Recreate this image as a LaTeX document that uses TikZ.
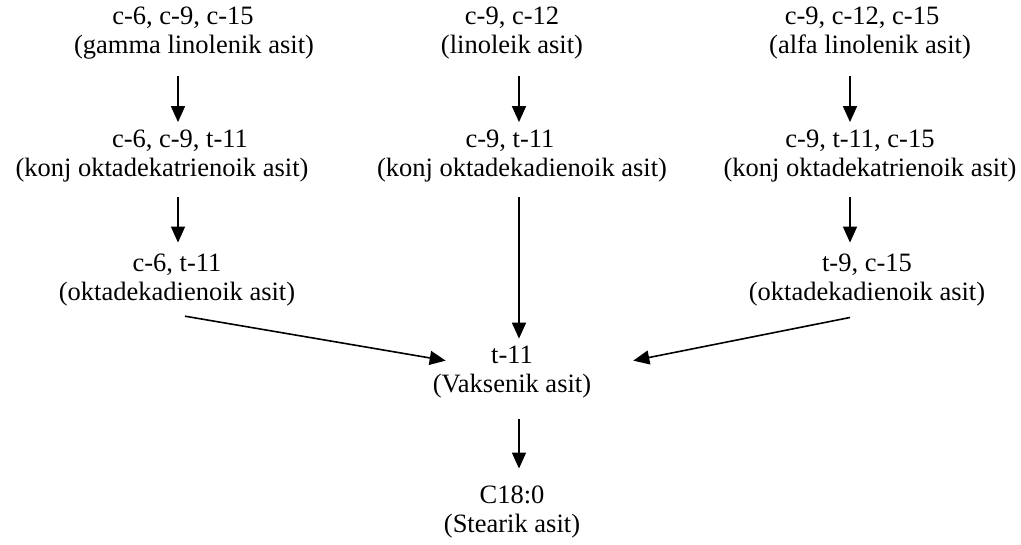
\documentclass[tikz,border=0pt]{standalone}
\usepackage{fontspec}
\setmainfont{Liberation Serif}
\usetikzlibrary{arrows.meta}
\begin{document}
\begin{tikzpicture}[x=1pt,y=1pt,
  lbl/.style={inner sep=0pt, align=center, font=\fontsize{26.5}{29}\selectfont},
  arr/.style={line width=1.6pt, -{Triangle[length=16pt,width=14pt]}}]
\useasboundingbox (0,0) rectangle (1021,-545);
% columns for the vertical arrows
\coordinate (cl) at (178,0);
\coordinate (cm) at (519,0);
\coordinate (cr) at (850,0);
% row 1
\node[lbl] (g1) at (194,-33.4) {c-6, c-9, c-15\hspace*{22pt}\\(gamma linolenik asit)};
\node[lbl] (l1) at (512,-33.4) {c-9, c-12\\(linoleik asit)};
\node[lbl] (a1) at (870,-33.4) {c-9, c-12, c-15\hspace*{16pt}\\(alfa linolenik asit)};
% row 2
\node[lbl] (g2) at (162,-156.4) {\hspace*{36pt}c-6, c-9, t-11\\(konj oktadekatrienoik asit)};
\node[lbl] (l2) at (522,-156.4) {c-9, t-11\hspace*{24pt}\\(konj oktadekadienoik asit)};
\node[lbl] (a2) at (870,-156.4) {c-9, t-11, c-15\hspace*{20pt}\\(konj oktadekatrienoik asit)};
% row 3
\node[lbl] (g3) at (177,-279.9) {c-6, t-11\\(oktadekadienoik asit)};
\node[lbl] (a3) at (867,-279.9) {t-9, c-15\\(oktadekadienoik asit)};
% row 4 and 5
\node[lbl] (v4) at (512,-371.9) {t-11\\(Vaksenik asit)};
\node[lbl] (s5) at (512,-511.9) {C18:0\\(Stearik asit)};
% vertical arrows
\draw[arr, shorten <=16.3pt, shorten >=8pt] (g1.south -| cl) -- (g2.north -| cl);
\draw[arr, shorten <=14.3pt, shorten >=11pt] (g2.south -| cl) -- (g3.north -| cl);
\draw[arr, shorten <=16.3pt, shorten >=8pt] (l1.south -| cm) -- (l2.north -| cm);
\draw[arr, shorten <=14.3pt, shorten >=7pt] (l2.south -| cm) -- (v4.north -| cm);
\draw[arr, shorten <=16.3pt, shorten >=8pt] (a1.south -| cr) -- (a2.north -| cr);
\draw[arr, shorten <=14.3pt, shorten >=11pt] (a2.south -| cr) -- (a3.north -| cr);
\draw[arr, shorten <=21.3pt, shorten >=17pt] (v4.south -| cm) -- (s5.north -| cm);
% diagonal arrows
\draw[arr] ([xshift=8pt,yshift=-10pt]g3.south) -- ([xshift=13pt,yshift=-15pt]v4.north west);
\draw[arr] ([xshift=-17pt,yshift=-11.3pt]a3.south) -- ([xshift=42pt,yshift=-15pt]v4.north east);
\end{tikzpicture}
\end{document}
